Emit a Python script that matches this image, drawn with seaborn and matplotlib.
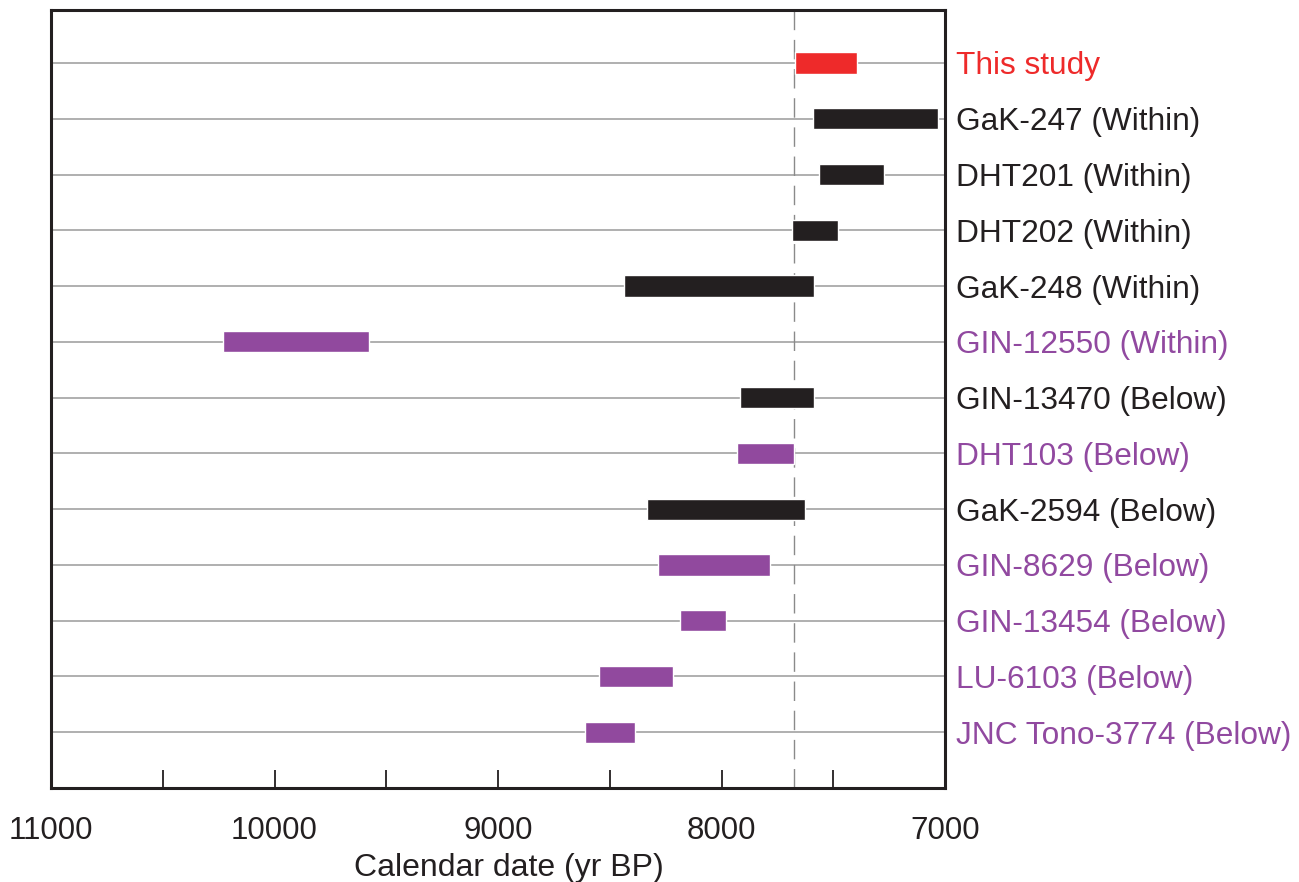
import matplotlib
matplotlib.use("Agg")
import matplotlib.pyplot as plt
import seaborn as sns
import pandas as pd
import numpy as np

labels = ["This study", "GaK-247 (Within)", "DHT201 (Within)", "DHT202 (Within)",
          "GaK-248 (Within)", "GIN-12550 (Within)", "GIN-13470 (Below)",
          "DHT103 (Below)", "GaK-2594 (Below)", "GIN-8629 (Below)",
          "GIN-13454 (Below)", "LU-6103 (Below)", "JNC Tono-3774 (Below)"]
older = [7670, 7590, 7565, 7685, 8435, 10230, 7915, 7930, 8335, 8285, 8185, 8550, 8610]
younger = [7395, 7030, 7275, 7480, 7585, 9575, 7585, 7675, 7625, 7785, 7980, 8215, 8385]
group = ["study", "black", "black", "black", "black", "purple", "black",
         "purple", "black", "purple", "purple", "purple", "purple"]
ref_date = 7676
major_ticks = [11000, 10500, 10000, 9500, 9000, 8500, 8000, 7500, 7000]
tick_labels = ["11000", "", "10000", "", "9000", "", "8000", "", "7000"]

palette = {"study": "#EE2A2A", "black": "#231F20", "purple": "#91499E"}

df = pd.DataFrame({"label": labels, "older": older, "younger": younger, "group": group})
df["pos"] = np.arange(len(df))
df["width"] = df["older"] - df["younger"]

sns.set_theme(style="white")
plt.rcParams["font.family"] = ["Liberation Sans", "DejaVu Sans"]

fig = plt.figure(figsize=(12.99, 8.82), dpi=100)
ax = fig.add_axes([51 / 1299, 1 - 788 / 882, (945 - 51) / 1299, (788 - 10) / 882])

# row gridlines
for p in df["pos"]:
    ax.axhline(p, color="#9A9A9A", lw=1.1, zorder=1)

ax.axvline(ref_date, color="#8A8A8A", lw=1.0, ls=(0, (14, 7)), zorder=1.5)

ax.barh(df["pos"], df["width"], left=df["younger"], height=0.38,
        color=[palette[g] for g in df["group"]], zorder=3)

ax.set_xlim(11000, 7000)
ax.set_ylim(len(df) - 1 + 1.0, -0.95)

ax.set_xticks(major_ticks)
ax.set_xticklabels(tick_labels, fontsize=22.5, color="#231F20")
ax.tick_params(axis="x", direction="in", length=13, width=1.3, color="#231F20",
               pad=20, bottom=True, top=False)

ax.yaxis.tick_right()
ax.set_yticks(df["pos"])
ax.set_yticklabels(df["label"], fontsize=22.8)
ax.tick_params(axis="y", length=0, pad=8)
for t, g in zip(ax.get_yticklabels(), df["group"]):
    t.set_color(palette[g] if g != "purple" else "#9149A0")

ax.set_xlabel("Calendar date (yr BP)", fontsize=23, color="#231F20")
ax.xaxis.set_label_coords(0.512, -0.083)
ax.set_ylabel("")

for s in ax.spines.values():
    s.set_visible(True)
    s.set_color("#231F20")
    s.set_linewidth(2.2)

fig.savefig("out.png", dpi=100)
